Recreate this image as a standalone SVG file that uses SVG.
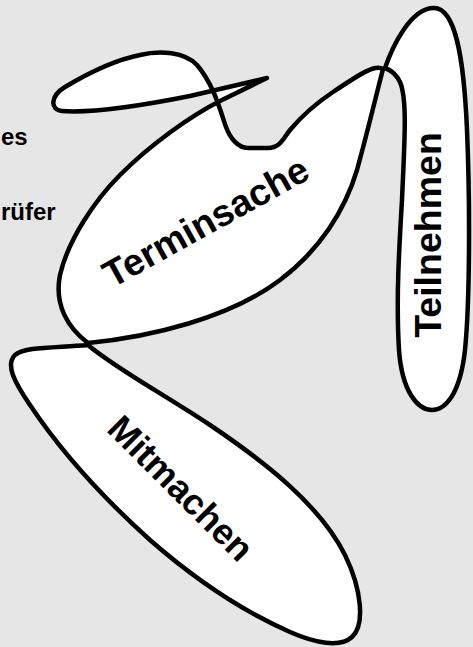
<svg xmlns="http://www.w3.org/2000/svg" width="473" height="647" viewBox="0 0 473 647">
<style>
.shape{fill:#ffffff;stroke:#000000;stroke-width:4.5;stroke-linejoin:round;stroke-linecap:round;fill-rule:evenodd}
.lbl{font-family:"Liberation Sans",Arial,Helvetica,sans-serif;font-weight:bold;font-size:37.5px;fill:#000000;text-anchor:middle}
.side{font-family:"Liberation Sans",Arial,Helvetica,sans-serif;font-weight:bold;font-size:24px;fill:#000000;text-anchor:start}
</style>
<rect x="0" y="0" width="473" height="647" fill="#e6e6e6"/>
<text class="side" x="1" y="145">es</text>
<text class="side" x="1" y="220">rüfer</text>
<g id="teilnehmen">
<path class="shape" d="M385,68 C392,48 410,8 434,8 C456,8 464,60 467,130 C470,200 470,300 465,350 C460,395 445,410 432,410 C418,410 402,392 399,350 C396,300 399,250 402,200 C404,150 408,100 400,82 C396,74 391,70 385,68 Z"/>
<text class="lbl" transform="translate(441,235) rotate(-90)">Teilnehmen</text>
</g>
<g id="mitmachen">
<path class="shape" d="M88,345 C115,368 160,392 210,425 C265,462 320,505 345,555 C362,590 365,625 352,637 C340,648 315,643 290,632 C240,610 190,575 150,540 C100,495 60,450 30,405 C15,383 5,365 15,355 C25,347 50,348 88,345 Z"/>
<text class="lbl" style="font-size:36px" transform="translate(172,497) rotate(45)">Mitmachen</text>
</g>
<g id="terminsache">
<path class="shape" d="M383,69 C375,64 360,74 333,92 C315,104 300,118 290,130 C283,139 280,148 268,148 L248,148 C238,148 230,138 226,127 C220,110 214,85 197,65 C185,52 160,50 140,55 C115,60 85,75 65,87 C50,96 50,110 62,111 C90,113 140,106 190,96 L267,78 L222,100 C190,116 150,145 120,175 C95,200 68,240 60,275 C54,305 68,328 88,343 C150,337 230,318 280,280 C320,250 345,210 357,170 C368,130 375,100 383,69 Z"/>
<text class="lbl" transform="translate(212,233) rotate(-29)">Terminsache</text>
</g>
<g id="connectors"></g>
</svg>
